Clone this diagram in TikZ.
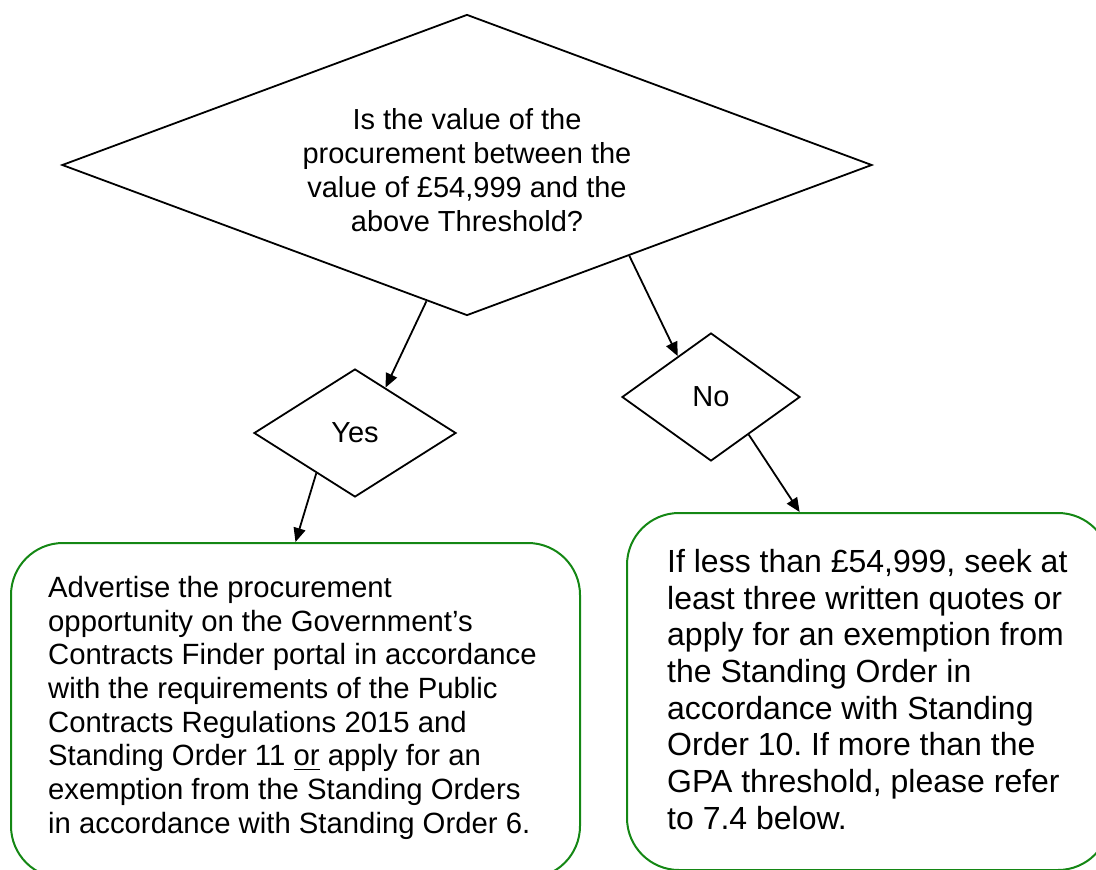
\documentclass[tikz,border=0pt]{standalone}
\usepackage{fontspec}
\setmainfont{Liberation Sans}
\usetikzlibrary{shapes.geometric,arrows.meta,calc}
\definecolor{boxgreen}{RGB}{20,135,20}
\newcommand\myul[1]{\setbox0\hbox{#1}\leavevmode\rlap{\raisebox{-4.5pt}{\rule{\wd0}{1.7pt}}}\box0\relax}
\frenchspacing
\begin{document}
\begin{tikzpicture}[x=1pt,y=-1pt,
  decision/.style={draw=black,line width=1.8pt,shape=diamond,inner sep=0pt,align=center,font=\fontsize{29}{34}\selectfont},
  outcome/.style={draw=boxgreen,line width=2pt,rounded corners=52pt,inner sep=0pt},
  body/.style={inner sep=0pt,align=left,anchor=north west},
  flow/.style={draw=black,line width=1.8pt,-{Triangle[length=14pt,width=12pt]}},
]
\useasboundingbox (0,0) rectangle (1096,870);
\clip (0,0) rectangle (1096,870);
\node[decision,minimum width=810pt,minimum height=301pt,aspect=2.69] (q) at (467,165) {};
\node[inner sep=0pt,align=center,font=\fontsize{29}{34}\selectfont] (qtext) at (467,170)
  {Is the value of the\\procurement between the\\value of £54,999 and the\\above Threshold?};
\node[decision,minimum width=202pt,minimum height=128pt,aspect=1.58] (yes) at (355,433) {Yes};
\node[decision,minimum width=178pt,minimum height=128pt,aspect=1.39] (no) at (711,397) {No};
\node[outcome,minimum width=569pt,minimum height=335pt] (lbox) at (295.5,710.5) {};
\node[outcome,minimum width=483pt,minimum height=357pt] (rbox) at (868.5,691.5) {};
\node[body,font=\fontsize{29.3}{33.7}\selectfont] (ltext) at (48,576)
  {Advertise the procurement\\
   opportunity on the Government’s\\
   Contracts Finder portal in accordance\\
   with the requirements of the Public\\
   Contracts Regulations 2015 and\\
   Standing Order 11 \myul{or} apply for an\\
   exemption from the Standing Orders\\
   in accordance with Standing Order 6.};
\node[body,font=\fontsize{32}{36.7}\selectfont] (rtext) at (667,549)
  {If less than £54,999, seek at\\
   least three written quotes or\\
   apply for an exemption from\\
   the Standing Order in\\
   accordance with Standing\\
   Order 10. If more than the\\
   GPA threshold, please refer\\
   to 7.4 below.};
\draw[flow] ($(q.south)!0.1!(q.west)$) -- ($(yes.north)!0.3!(yes.east)$);
\draw[flow] ($(q.south)!0.4!(q.east)$) -- ($(no.north)!0.37!(no.west)$);
\draw[flow] ($(yes.south)!0.38!(yes.west)$) -- (lbox.north);
\draw[flow] ($(no.south)!0.42!(no.east)$) -- ($(rbox.north west)!0.358!(rbox.north east)$);
\end{tikzpicture}
\end{document}
